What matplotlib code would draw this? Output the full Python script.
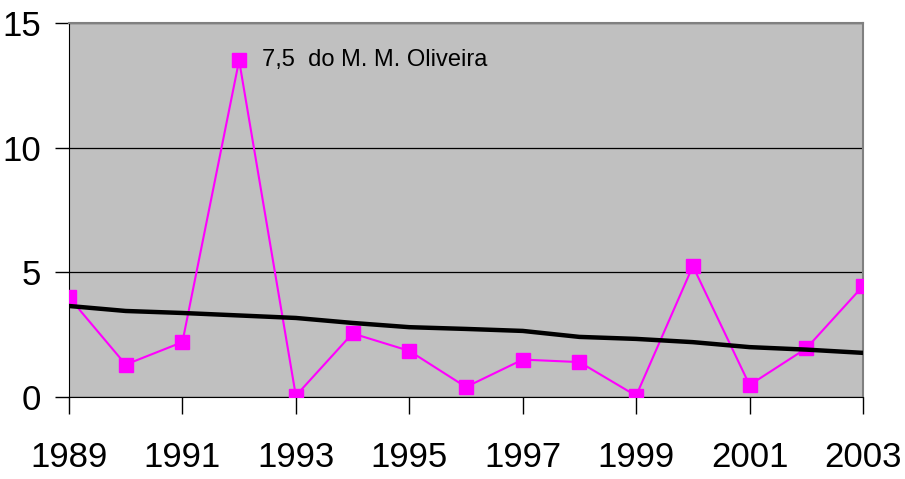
import numpy as np
import matplotlib.pyplot as plt

plt.rcParams['font.family'] = ['Liberation Sans', 'DejaVu Sans']

years = list(range(1989, 2004))
values = [4.0, 1.3, 2.2, 13.5, 0.05, 2.55, 1.85, 0.4, 1.5, 1.4, 0.05, 5.25, 0.48, 1.95, 4.45]
trend = [3.65, 3.45, 3.37, 3.27, 3.17, 2.97, 2.8, 2.73, 2.65, 2.41, 2.33, 2.2, 2.0, 1.9, 1.77]
label_text = "7,5  do M. M. Oliveira"
xticks = list(range(1989, 2004, 2))
yticks = [0, 5, 10, 15]

fig = plt.figure(figsize=(9.05, 4.79), dpi=100)
ax = fig.add_axes([0.0762, 0.1712, 0.8774, 0.7808])
ax.set_facecolor('#C0C0C0')

ax.plot(years, values, color='#FF00FF', lw=1.5, marker='s', ms=9.5, zorder=3)
ax.plot(years, trend, color='black', lw=3.2, zorder=4)

ax.annotate(label_text, xy=(1992, 13.5), xytext=(16.5, 0), textcoords='offset points',
            va='center', ha='left', fontsize=17)

ax.set_xlim(1989, 2003)
ax.set_ylim(0, 15)
ax.set_xticks(xticks)
ax.set_yticks(yticks)
ax.yaxis.grid(True, color='black', lw=0.9)
ax.set_axisbelow(True)

ax.tick_params(axis='x', length=12, width=1, pad=20, labelsize=25, direction='out')
ax.tick_params(axis='y', length=10, width=1, pad=10, labelsize=25, direction='out')

for s in ['top', 'right']:
    ax.spines[s].set_color('#808080')
    ax.spines[s].set_linewidth(1.5)
ax.spines['left'].set_color('black')
ax.spines['bottom'].set_color('black')

fig.savefig('out.png', dpi=100)
